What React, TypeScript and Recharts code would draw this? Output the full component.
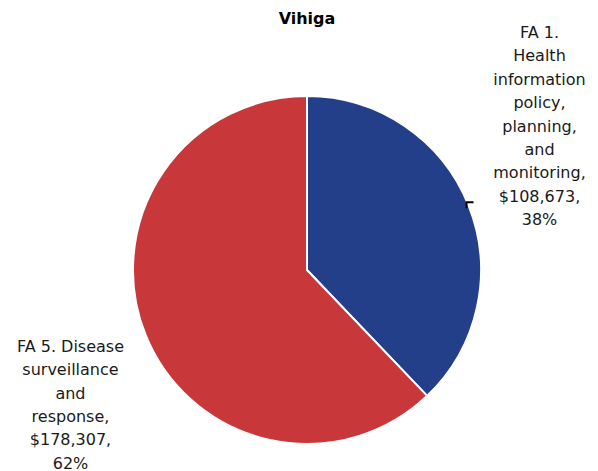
import { PieChart, Pie, Cell } from 'recharts';

const categories = [
  ['FA 1.', 'Health', 'information', 'policy,', 'planning,', 'and', 'monitoring,'],
  ['FA 5. Disease', 'surveillance', 'and', 'response,'],
];
const values = [108673, 178307];
const colors = ['#243F8A', '#C8373A'];

const data = categories.map((lines, i) => ({ name: lines.join(' '), lines, value: values[i] }));

const RAD = Math.PI / 180;
const FONT = '"DejaVu Sans", sans-serif';
const LINE_H = 23.4;

const renderLabel = (props: any) => {
  const { cx, cy, midAngle, outerRadius, index, value, percent } = props;
  const px = cx + outerRadius * Math.cos(-midAngle * RAD);
  const py = cy + outerRadius * Math.sin(-midAngle * RAD);
  const lines = [
    ...data[index].lines,
    `$${value.toLocaleString('en-US')},`,
    `${Math.round(percent * 100)}%`,
  ];
  const right = px > cx;
  const tx = right ? px + 71 : px - 75;
  const firstY = right ? py + 14 - (lines.length - 1) * LINE_H : py + 11;
  return (
    <g>
      {right && (
        <path
          d={`M${px + 5},${py - 3} H${px - 2} V${py + 3}`}
          stroke="#000"
          strokeWidth={2}
          fill="none"
        />
      )}
      <text
        x={tx}
        y={firstY}
        textAnchor="middle"
        dominantBaseline="central"
        fontFamily={FONT}
        fontSize={16}
        fill="#1a1a1a"
      >
        {lines.map((l, i) => (
          <tspan key={i} x={tx} y={firstY + i * LINE_H}>
            {l}
          </tspan>
        ))}
      </text>
    </g>
  );
};

export default function App() {
  return (
    <div style={{ position: 'absolute', left: 0, top: 0, width: 598, height: 471, background: '#fff' }}>
      <PieChart width={598} height={471} margin={{ top: 0, right: 0, bottom: 0, left: 0 }}>
        <text
          x={307}
          y={18}
          textAnchor="middle"
          dominantBaseline="central"
          fontFamily={FONT}
          fontSize={16}
          fontWeight="bold"
          fill="#000"
        >
          Vihiga
        </text>
        <Pie
          data={data}
          dataKey="value"
          cx={307}
          cy={270}
          outerRadius={174}
          startAngle={90}
          endAngle={-270}
          stroke="#fff"
          strokeWidth={2}
          label={renderLabel}
          labelLine={false}
          isAnimationActive={false}
        >
          {data.map((d, i) => (
            <Cell key={d.name} fill={colors[i]} />
          ))}
        </Pie>
      </PieChart>
    </div>
  );
}
